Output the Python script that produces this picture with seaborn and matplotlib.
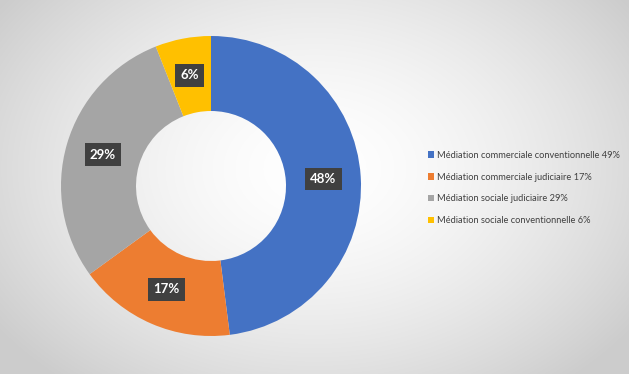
import numpy as np
import matplotlib
matplotlib.use("Agg")
import matplotlib.pyplot as plt
import seaborn as sns

categories = ["Médiation commerciale conventionnelle 49%",
              "Médiation commerciale judiciaire 17%",
              "Médiation sociale judiciaire 29%",
              "Médiation sociale conventionnelle 6%"]
values = [48, 17, 29, 6]
value_labels = ["48%", "17%", "29%", "6%"]
colors = ["#4472C4", "#ED7D31", "#A5A5A5", "#FFC000"]

sns.set_style("white")
plt.rcParams['font.family'] = ['Lato', 'DejaVu Sans']

W, H = 629, 374
fig = plt.figure(figsize=(W / 100, H / 100), dpi=100)

# radial gradient background
bg = fig.add_axes([0, 0, 1, 1])
yy, xx = np.mgrid[0:H, 0:W]
cx, cy = W * 0.5, H * 0.45
r = np.sqrt(((xx - cx) / (W * 0.62)) ** 2 + ((yy - cy) / (H * 0.75)) ** 2)
r = np.clip(r, 0, 1)
v = 1.0 - 0.20 * r ** 1.6
img = np.dstack([v, v, v])
bg.imshow(img, aspect="auto", extent=[0, W, H, 0])
bg.set_axis_off()

ax = fig.add_axes([61 / W, 38 / H, 300 / W, 300 / H])
ax.set_aspect("equal")
wedges, _ = ax.pie(values, colors=colors, startangle=90, counterclock=False,
                   radius=1.0, wedgeprops=dict(width=0.5, edgecolor="none"))
ax.set_xlim(-1, 1)
ax.set_ylim(-1, 1)
ax.set_axis_off()

for w, lab in zip(wedges, value_labels):
    ang = np.deg2rad((w.theta1 + w.theta2) / 2)
    x, y = 0.75 * np.cos(ang), 0.75 * np.sin(ang)
    ax.text(x, y, lab, ha="center", va="center", color="white",
            fontsize=9.5, fontweight="bold",
            bbox=dict(boxstyle="square,pad=0.4", facecolor="#404040", edgecolor="none"))

handles = [plt.Rectangle((0, 0), 1, 1, facecolor=c, edgecolor="none") for c in colors]
leg = fig.legend(handles, categories, loc="center left",
                 bbox_to_anchor=(424 / W, (374 - 188) / H), frameon=False,
                 fontsize=6.7, labelcolor="#404040",
                 handlelength=0.7, handleheight=0.7, handletextpad=0.3,
                 labelspacing=1.38, borderaxespad=0)

fig.savefig("out.png", dpi=100)
